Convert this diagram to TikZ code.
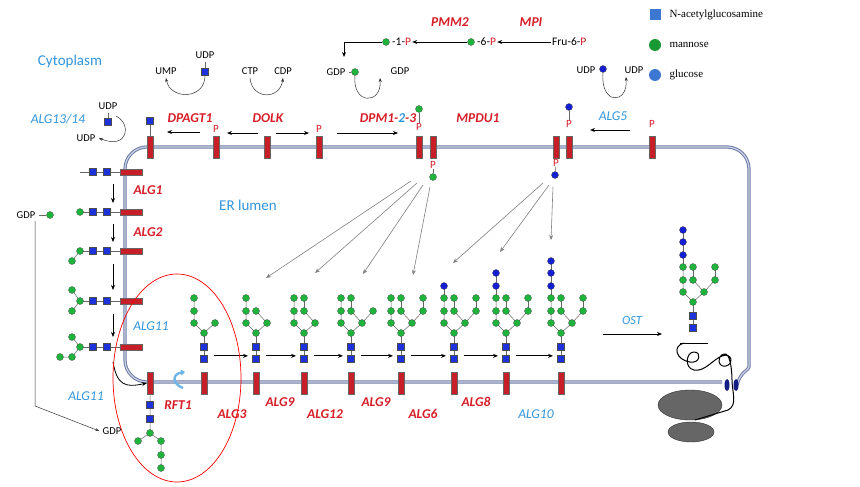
\documentclass[tikz,border=0pt]{standalone}
\usepackage{fontspec}
\setmainfont{Liberation Serif}
\setsansfont{Carlito}
\usetikzlibrary{arrows.meta,shapes.geometric}
\definecolor{mgreen}{RGB}{30,180,60}
\definecolor{gblue}{RGB}{20,30,210}
\definecolor{nblue}{RGB}{30,50,220}
\definecolor{lred}{RGB}{200,30,40}
\definecolor{ered}{RGB}{215,30,40}
\definecolor{eblue}{RGB}{50,150,220}
\definecolor{memc}{RGB}{110,125,170}
\definecolor{legb}{RGB}{60,120,210}
\tikzset{
 man/.style={circle,fill=mgreen,draw=black!70,line width=0.3pt,inner sep=0,minimum size=7pt},
 glc/.style={man,fill=gblue},
 nag/.style={rectangle,fill=nblue,draw=black!70,line width=0.3pt,inner sep=0,minimum size=7pt},
 lip/.style={rectangle,fill=lred,draw=black!60,line width=0.3pt,inner sep=0,minimum width=6pt,minimum height=22pt},
 lipH/.style={lip,minimum width=22pt,minimum height=6pt},
 enz/.style={font=\sffamily\bfseries\itshape\fontsize{13.5}{15}\selectfont,text=ered},
 enzb/.style={font=\sffamily\itshape\fontsize{13.5}{15}\selectfont,text=eblue},
 lab/.style={font=\sffamily\fontsize{10.5}{12}\selectfont},
 redp/.style={font=\sffamily\fontsize{11}{12}\selectfont,text=ered,inner sep=0},
 arr/.style={-{Stealth[length=5pt,width=4pt]},line width=0.9pt},
 carr/.style={-{Stealth[length=4pt,width=3pt]},line width=0.5pt,black!80},
 garr/.style={-{Stealth[length=5pt,width=4pt]},gray,line width=0.6pt},
 bond/.style={black!60,line width=0.5pt},
 mem/.style={draw=memc,line width=3.2pt,rounded corners=22pt},
 memin/.style={draw=memc!35!white,line width=1.2pt,rounded corners=22pt},
}
\newcommand\glyc[3]{%
\begin{scope}[shift={(#1,#2)}]
\draw[bond] (0,0)--(0,30);
\draw[bond] (0,0)--(-10,-10)--(-10,-35);
\draw[bond] (0,0)--(11,-10);
\ifnum#3>5 \draw[bond](11,-10)--(0,-22);\fi
\ifnum#3>6 \draw[bond](0,-22)--(0,-35);\fi
\ifnum#3>7 \draw[bond](11,-10)--(22,-22);\fi
\ifnum#3>8 \draw[bond](22,-22)--(22,-35);\fi
\ifnum#3>9 \draw[bond](-10,-35)--(-10,-47);\fi
\ifnum#3>10 \draw[bond](-10,-47)--(-10,-60);\fi
\ifnum#3>11 \draw[bond](-10,-60)--(-10,-72);\fi
\node[nag] at (0,14) {};
\node[nag] at (0,26) {};
\node[man] at (0,0) {};
\node[man] at (-10,-10) {};
\node[man] at (-10,-22) {};
\node[man] at (-10,-35) {};
\node[man] at (11,-10) {};
\ifnum#3>5 \node[man] at (0,-22) {};\fi
\ifnum#3>6 \node[man] at (0,-35) {};\fi
\ifnum#3>7 \node[man] at (22,-22) {};\fi
\ifnum#3>8 \node[man] at (22,-35) {};\fi
\ifnum#3>9 \node[glc] at (-10,-47) {};\fi
\ifnum#3>10 \node[glc] at (-10,-60) {};\fi
\ifnum#3>11 \node[glc] at (-10,-72) {};\fi
\end{scope}}
\begin{document}
\begin{tikzpicture}[x=1pt,y=-1pt]
\useasboundingbox[fill=white] (0,0) rectangle (860,487);
% membrane
\draw[mem] (722,382) -- (125,382) -- (125,147) -- (749,147) -- (749,345) .. controls (749,370) and (740,372) .. (737,385);
\draw[memin] (722,382) -- (125,382) -- (125,147) -- (749,147) -- (749,345) .. controls (749,370) and (740,372) .. (737,385);
% legend
\node[nag,minimum size=11pt,fill=legb,draw=none] (lg1) at (655,15) {};
\node[anchor=west,font=\fontsize{11}{12}\selectfont] at (666,15) {N-acetylglucosamine};
\node[man,minimum size=12pt,draw=none,fill=mgreen!85!black] (lg2) at (655,45) {};
\node[anchor=west,font=\fontsize{11}{12}\selectfont] at (666,45) {mannose};
\node[man,minimum size=12pt,draw=none,fill=legb] (lg3) at (655,75) {};
\node[anchor=west,font=\fontsize{11}{12}\selectfont] at (666,75) {glucose};
% compartment labels
\node[font=\sffamily\fontsize{15}{17}\selectfont,text=eblue] (cyt) at (70,62) {Cytoplasm};
\node[font=\sffamily\fontsize{15}{17}\selectfont,text=eblue] (erl) at (248,205) {ER lumen};
% top chain
\node[enz] (pmm) at (450,22) {PMM2};
\node[enz] (mpi) at (531,22) {MPI};
\node[man] (m1c) at (386,42) {};
\node[lab,anchor=west,inner sep=1pt,font=\sffamily\fontsize{11.5}{12}\selectfont] (m1p) at (391,42) {-1-\textcolor{ered}{P}};
\node[man] (m6c) at (471,42) {};
\node[lab,anchor=west,inner sep=1pt,font=\sffamily\fontsize{11.5}{12}\selectfont] (m6p) at (476,42) {-6-\textcolor{ered}{P}};
\node[lab,anchor=west,inner sep=1pt,font=\sffamily\fontsize{11.5}{12}\selectfont] (fru) at (551,42) {Fru-6-\textcolor{ered}{P}};
\draw[arr] (fru.west) -- (m6p.east);
\draw[arr] (m6c.west) -- (m1p.east);
\coordinate (elb) at (344,42);
\coordinate (elbd) at (344,57);
\draw[arr] (m1c.west) -- (elb) -- (elbd);
% nucleotide sugars
\node[lab] (ump) at (166,71) {UMP};
\node[lab] (udp1) at (205,55) {UDP};
\node[nag] (sq1) at (205,72) {};
\draw[bond] (udp1.south) -- (sq1);
\draw[carr] (sq1.south) .. controls (205,100) and (170,100) .. (ump.south);
\node[lab] (ctp) at (250,71) {CTP};
\node[lab] (cdp) at (283,71) {CDP};
\draw[carr] (ctp.south) .. controls (252,100) and (280,100) .. (cdp.south);
\node[lab] (gdp1) at (336,72) {GDP};
\node[man] (gm) at (355,72) {};
\draw[bond] (gdp1.east) -- (gm);
\node[lab] (gdp2) at (400,71) {GDP};
\draw[carr] (gm.south) .. controls (352,105) and (382,105) .. (380,78);
\node[lab] (udp5) at (586,70) {UDP};
\node[glc] (gc) at (603,69) {};
\draw[bond] (udp5.east) -- (gc);
\node[lab] (udp6) at (634,70) {UDP};
\draw[carr] (gc.south) .. controls (600,105) and (628,105) .. (626,77);
% enzyme labels top
\node[enz] (dpagt) at (190,118) {DPAGT1};
\node[enz] (dolk) at (268,118) {DOLK};
\node[enz] (dpm) at (388,118) {DPM1-\textcolor{eblue}{2}-3};
\node[enz] (mpdu) at (478,118) {MPDU1};
\node[enzb] (alg5) at (613,116) {ALG5};
\node[enzb] (alg1314) at (58,119) {ALG13/14};
% top lipids
\foreach \n/\x in {t1/150,t2/216,t3/267,t4/319,t5/419,t6/433,t7/556,t8/569,t9/652}
  \node[lip] (\n) at (\x,147) {};
\node[nag] (sqt) at (150,121) {};
\draw[bond] (sqt) -- (t1.north);
\node[redp] (p2) at (216,129) {P};
\node[redp] (p4) at (319,129) {P};
\node[redp] (p5) at (419,127) {P};
\node[man] (m5) at (419,109) {};
\draw[bond] (m5) -- (p5);
\node[redp] (p8) at (569,124) {P};
\node[glc] (g8) at (569,107) {};
\draw[bond] (g8) -- (p8);
\node[redp] (p9) at (652,124) {P};
\node[redp] (p6) at (433,165) {P};
\node[man] (m6) at (433,177) {};
\draw[bond] (p6) -- (m6);
\node[redp] (p7) at (556,163) {P};
\node[glc] (g7) at (555,175) {};
\draw[bond] (p7) -- (g7);
\coordinate (a1s) at (200,132); \coordinate (a1e) at (167,132);
\draw[arr] (a1s) -- (a1e);
\coordinate (a2s) at (258,133); \coordinate (a2e) at (227,133);
\draw[arr] (a2s) -- (a2e);
\coordinate (a3s) at (276,133); \coordinate (a3e) at (309,133);
\draw[arr] (a3s) -- (a3e);
\coordinate (a4s) at (337,133); \coordinate (a4e) at (398,133);
\draw[arr] (a4s) -- (a4e);
\coordinate (a5s) at (630,130); \coordinate (a5e) at (590,130);
\draw[arr] (a5s) -- (a5e);
% ALG13/14
\node[lab] (udp3) at (108,106) {UDP};
\node[nag] (sq3) at (108,122) {};
\draw[bond] (udp3.south) -- (sq3);
\node[lab] (udp4) at (86,138) {UDP};
\draw[carr] (116,116) .. controls (132,124) and (128,150) .. (udp4.east);
% left side lipids and glycans
\foreach \n/\y in {l1/172,l2/212,l3/251,l4/301,l5/347}{
  \node[lipH] (\n) at (131,\y) {};
  \draw[bond] (\n.west) -- (80,\y);
  \node[nag] at (107,\y) {};
  \node[nag] at (93,\y) {};
}
\node[man] at (80,212) {};
\draw[bond] (80,251) -- (72,261); \node[man] at (80,251) {}; \node[man] at (72,261) {};
\draw[bond] (72,290) -- (80,301) -- (72,311);
\node[man] at (80,301) {}; \node[man] at (72,290) {}; \node[man] at (72,311) {};
\draw[bond] (72,337) -- (80,347) -- (72,357) -- (60,357);
\node[man] at (80,347) {}; \node[man] at (72,337) {}; \node[man] at (72,357) {}; \node[man] at (60,357) {};
\foreach \a/\b in {184/203,224/242,264/290,314/337}
  \draw[arr] (113,\a) -- (113,\b);
\node[enz] (alg1) at (148,190) {ALG1};
\node[enz] (alg2) at (148,232) {ALG2};
\node[enzb] (alg11a) at (151,326) {ALG11};
\node[enzb] (alg11b) at (86,396) {ALG11};
% GDP line
\node[lab] (gdp3) at (26,215) {GDP};
\node[man] (gm3) at (50,215) {};
\draw[bond] (gdp3.east) -- (gm3);
\node[lab] (gdp4) at (112,431) {GDP};
\coordinate (gl1) at (35,221);
\coordinate (gl2) at (35,406);
\draw[carr] (gl1) -- (gl2) -- (gdp4.west);
% RFT1
\node[lip] (rft) at (150,383) {};
\draw[arr,line width=0.8pt] (113,362) .. controls (117,385) and (125,388) .. (rft.west);
\node[enz] (rftl) at (178,405) {RFT1};
\draw[bond] (rft.south) -- (150,433) -- (138,441);
\draw[bond] (150,433) -- (161,441) -- (161,468);
\node[nag] at (150,405) {}; \node[nag] at (150,419) {};
\node[man] at (150,433) {}; \node[man] at (138,441) {};
\node[man] at (161,441) {}; \node[man] at (161,455) {}; \node[man] at (161,468) {};
% flip arrow
\draw[-{Triangle[length=4pt,width=6pt]},line width=2.4pt,eblue!70] (183,388) .. controls (172,384) and (172,374) .. (185,372);
% series
\foreach \n/\x/\k in {s1/204/5,s2/256/6,s3/304/7,s4/351/8,s5/401/9,s6/454/10,s7/506/11,s8/561/12}{
  \node[lip] (\n) at (\x,383) {};
  \glyc{\x}{333}{\k}
}
\foreach \a/\b in {s1/s2,s2/s3,s3/s4,s4/s5,s5/s6,s6/s7,s7/s8}
  \draw[arr] ([xshift=10pt,yshift=16pt]\a.north) -- ([xshift=-8pt,yshift=16pt]\b.north);
\node[enz] at (232,414) {ALG3};
\node[enz] at (280,402) {ALG9};
\node[enz] at (325,414) {ALG12};
\node[enz] at (376,402) {ALG9};
\node[enz] at (423,414) {ALG6};
\node[enz] at (476,402) {ALG8};
\node[enzb] at (536,414) {ALG10};
% red ellipse
\draw[red,line width=0.7pt] (177,378) ellipse (64pt and 104pt);
% grey arrows
\coordinate (gA1) at (266,278); \coordinate (gA2) at (315,273);
\coordinate (gA3) at (363,274); \coordinate (gA4) at (413,275);
\coordinate (gB1) at (453,263); \coordinate (gB2) at (500,252); \coordinate (gB3) at (551,240);
\draw[garr] (411,181) -- (gA1);
\draw[garr] (417,183) -- (gA2);
\draw[garr] (423,185) -- (gA3);
\draw[garr] (430,187) -- (gA4);
\draw[garr] (543,183) -- (gB1);
\draw[garr] (549,185) -- (gB2);
\draw[garr] (553,187) -- (gB3);
% OST
\node[enzb,font=\sffamily\itshape\fontsize{12.5}{14}\selectfont] (ost) at (632,320) {OST};
\coordinate (os1) at (603,334); \coordinate (os2) at (662,334);
\draw[arr,line width=0.7pt] (os1) -- (os2);
\glyc{693}{302}{12}
\draw[line width=0.9pt] (680,343) -- (708,343);
% ribosome
\node[ellipse,fill=black!60,draw=black!80,minimum width=64pt,minimum height=30pt,inner sep=0] (rib1) at (690,405) {};
\node[ellipse,fill=black!60,draw=black!80,minimum width=46pt,minimum height=20pt,inner sep=0] (rib2) at (691,432) {};
\fill[nblue!60!black] (727,385) ellipse (2.5pt and 6pt);
\fill[nblue!60!black] (736,385) ellipse (2.5pt and 6pt);
\draw[line width=1pt,line join=round] (684,343) .. controls (672,346) and (676,360) .. (690,362)
  .. controls (700,364) and (702,352) .. (694,352) .. controls (686,352) and (684,368) .. (694,370)
  .. controls (705,372) and (712,360) .. (722,356) .. controls (732,352) and (734,364) .. (726,366)
  .. controls (718,368) and (716,356) .. (724,354) .. controls (730,352) and (732,370) .. (732,380)
  .. controls (732,392) and (738,405) .. (728,410) -- (695,420);
\end{tikzpicture}
\end{document}
